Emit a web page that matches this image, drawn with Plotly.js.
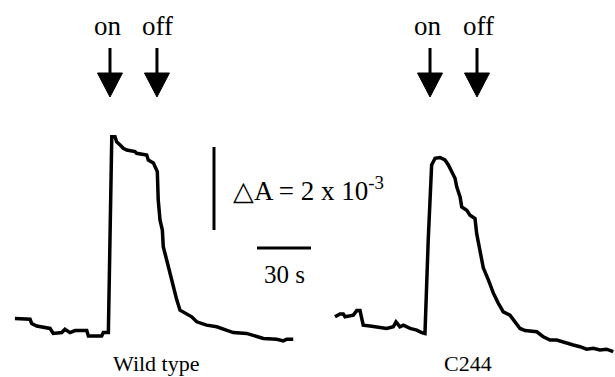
<!DOCTYPE html>
<html>
<head>
<meta charset="utf-8">
<script src="https://cdn.plot.ly/plotly-3.0.1.min.js"></script>
<style>html,body{margin:0;padding:0;background:#fff;}#chart{width:615px;height:377px;}</style>
</head>
<body>
<div id="chart"></div>
<script>
// time in s, absorbance change in units of 1e-3
var wtTime = [8.3,16.7,17.6,20.4,27.8,29.6,34.3,36.1,38.9,41.7,48.2,49.1,56.5,57.4,60.2,62.1,63.9,64.8,66.7,68.5,70.4,75.0,75.9,81.5,82.4,85.2,86.1,87.4,87.9,88.9,90.2,90.7,92.6,94.4,96.3,98.2,100.0,103.7,106.5,109.3,114.8,120.4,125.9,129.6,137.0,140.7,146.3,153.7,157.4,159.3,162.9];
var wtAbs  = [1.41,1.39,1.29,1.23,1.17,1.05,1.07,1.15,1.07,1.12,1.12,0.99,0.99,1.07,1.07,5.79,5.79,5.67,5.59,5.51,5.47,5.43,5.39,5.35,5.23,5.16,5.07,4.95,4.27,3.78,3.54,3.14,2.82,2.50,2.18,1.86,1.61,1.52,1.45,1.33,1.25,1.21,1.13,1.07,1.05,1.01,0.93,0.91,0.87,0.91,0.91];
var c244Time = [186.1,188.9,190.7,191.7,196.3,198.2,200.0,201.8,205.6,211.1,214.8,218.5,220.0,222.2,224.1,227.8,231.5,234.3,236.1,237.9,238.9,239.8,241.7,244.4,247.2,249.1,250.9,252.8,253.7,255.6,256.5,259.3,261.1,263.9,264.8,266.7,268.5,271.3,274.1,276.8,279.6,283.3,286.1,288.9,291.7,298.2,301.8,305.6,309.3,312.9,314.8,318.5,322.2,325.9,329.6,333.3,337.0,340.7];
var c244Abs  = [1.45,1.52,1.52,1.45,1.49,1.60,1.60,1.25,1.23,1.20,1.17,1.21,1.33,1.21,1.25,1.17,1.13,1.07,1.05,3.30,4.51,5.11,5.27,5.29,5.23,5.11,4.95,4.79,4.59,4.34,4.10,4.02,3.90,3.82,3.46,2.98,2.63,2.34,2.02,1.78,1.57,1.49,1.33,1.17,1.12,1.09,0.97,0.89,0.89,0.84,0.81,0.77,0.73,0.67,0.69,0.65,0.67,0.61];
var lightOn  = [61.1, 238.9];
var lightOff = [87.2, 265.0];
var panelLabels = ['Wild type', 'C244'];
var panelLabelX = [156, 468]; // px positions
var scaleTime = 30;   // s
var scaleAbs = 2;     // x 1e-3

// pixel helpers for placing decorations
function px(p){ return p/1.8; }
function py(p){ return (377-p)/41.5; }

var FONT = 'Liberation Serif, Times New Roman, serif';
var traceStyle = {color:'#000', width:3.5};
var data = [
  {x: wtTime, y: wtAbs, type:'scatter', mode:'lines', line: traceStyle, hoverinfo:'skip'},
  {x: c244Time, y: c244Abs, type:'scatter', mode:'lines', line: traceStyle, hoverinfo:'skip'}
];

var shapes = [];
var annotations = [];
function arrow(t){
  shapes.push({type:'line', xref:'x', yref:'y', x0:t, x1:t, y0:py(48), y1:py(75), line:{color:'#000', width:3}});
  var hw = px(12.5);
  shapes.push({type:'path', xref:'x', yref:'y', fillcolor:'#000', line:{color:'#000', width:1},
    path:'M '+(t-hw)+','+py(73)+' L '+(t+hw)+','+py(73)+' L '+t+','+py(97)+' Z'});
}
function label(t, txt){
  annotations.push({x:t, y:py(26), xref:'x', yref:'y', text:txt, showarrow:false,
    font:{family:FONT, size:27, color:'#000'}, xanchor:'center', yanchor:'middle'});
}
for (var i=0;i<lightOn.length;i++){
  arrow(lightOn[i]); arrow(lightOff[i]);
  label(lightOn[i]-px(2), 'on'); label(lightOff[i]+px(1), 'off');
  annotations.push({x:px(panelLabelX[i]), y:py(363), xref:'x', yref:'y', text:panelLabels[i], showarrow:false,
    font:{family:FONT, size:22, color:'#000'}, xanchor:'center', yanchor:'middle'});
}
// scale bars
var vx = px(214), vy0 = py(230);
shapes.push({type:'line', xref:'x', yref:'y', x0:vx, x1:vx, y0:vy0, y1:vy0+scaleAbs, line:{color:'#000', width:3}});
var hx0 = px(257), hy = py(248);
shapes.push({type:'line', xref:'x', yref:'y', x0:hx0, x1:hx0+scaleTime, y0:hy, y1:hy, line:{color:'#000', width:3}});
annotations.push({x:px(231), y:py(189), xref:'x', yref:'y', text:'\u25B3A = 2 x 10<sup>-3</sup>', showarrow:false,
  font:{family:FONT, size:27, color:'#000'}, xanchor:'left', yanchor:'middle'});
annotations.push({x:hx0+scaleTime/2, y:py(274), xref:'x', yref:'y', text:scaleTime+' s', showarrow:false,
  font:{family:FONT, size:25, color:'#000'}, xanchor:'center', yanchor:'middle'});

var layout = {
  width:615, height:377,
  margin:{l:0,r:0,t:0,b:0},
  paper_bgcolor:'#fff', plot_bgcolor:'#fff',
  showlegend:false,
  xaxis:{range:[0, 615/1.8], visible:false, fixedrange:true},
  yaxis:{range:[0, 377/41.5], visible:false, fixedrange:true},
  shapes:shapes, annotations:annotations
};
Plotly.newPlot('chart', data, layout, {staticPlot:true, displayModeBar:false});
</script>
</body>
</html>
